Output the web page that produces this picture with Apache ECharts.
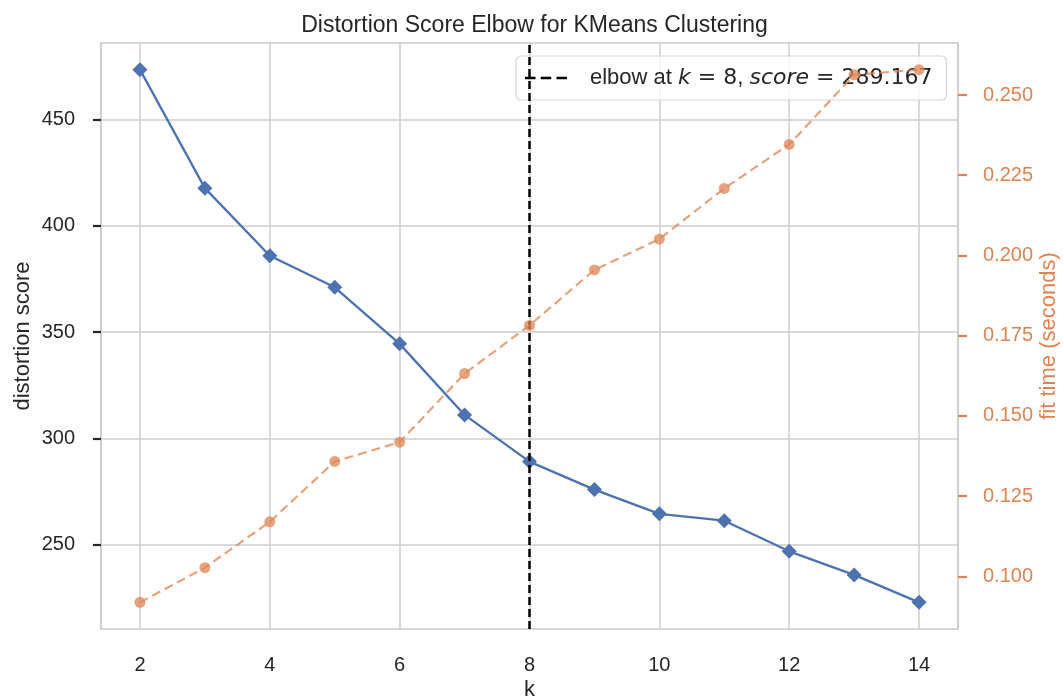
<!DOCTYPE html>
<html><head><meta charset="utf-8">
<script src="https://cdn.jsdelivr.net/npm/echarts@6/dist/echarts.min.js"></script>
<style>html,body{margin:0;padding:0;background:#fff}#c{width:1063px;height:700px}</style>
</head><body><div id="c"></div>
<script>
const kValues = [2, 3, 4, 5, 6, 7, 8, 9, 10, 11, 12, 13, 14];
const distortionScores = [473.4, 417.7, 385.9, 371.1, 344.5, 311.1, 289.167, 276.0, 264.6, 261.4, 247.0, 235.9, 223.0];
const fitTimes = [0.0919, 0.1027, 0.1170, 0.1358, 0.1418, 0.1632, 0.1782, 0.1955, 0.2051, 0.2209, 0.2346, 0.2563, 0.2579];
const elbowK = 8;
const elbowScore = 289.167;
const xTicks = [2, 4, 6, 8, 10, 12, 14];
const leftTicks = [250, 300, 350, 400, 450];
const rightTicks = [0.100, 0.125, 0.150, 0.175, 0.200, 0.225, 0.250];

function padded(arr, frac) {
  const lo = Math.min(...arr), hi = Math.max(...arr), r = hi - lo;
  return [lo - r * frac, hi + r * frac];
}
const xr = padded(kValues, 0.05);
const lr = padded(distortionScores, 0.05);
const rr = padded(fitTimes, 0.05);

const FONT = 'Liberation Sans';
const MATH = 'DejaVu Sans';
const TXT = '#262626';
const BLUE = '#4C72B0';
const ORANGE = '#DD8452';
const GRID = '#cccccc';

const chart = echarts.init(document.getElementById('c'), null, {renderer: 'canvas'});
chart.setOption({
  animation: false,
  backgroundColor: '#fff',
  textStyle: {fontFamily: FONT},
  title: {
    text: 'Distortion Score Elbow for KMeans Clustering',
    left: 529.5, textAlign: 'center', top: 9,
    textStyle: {fontFamily: FONT, fontSize: 23, fontWeight: 'normal', color: TXT}
  },
  grid: {left: 101, right: 105, top: 43, bottom: 71, outerBoundsMode: 'none', containLabel: false,
    show: true, borderColor: GRID, borderWidth: 1.6, backgroundColor: 'transparent'},
  legend: {
    data: [{name: 'elbow', icon: 'path://M0,0H10V2.6H0ZM15,0H25V2.6H15ZM30,0H40V2.6H30Z'}],
    left: 516, top: 56,
    padding: [11, 14, 11, 9],
    backgroundColor: 'rgba(255,255,255,0.8)',
    borderColor: '#d5d5d5', borderWidth: 1.2, borderRadius: 5,
    itemWidth: 42, itemHeight: 2.6, symbolKeepAspect: false,
    itemStyle: {color: '#000'},
    selectedMode: false,
    formatter: () => '{g|}{n|elbow at }{i|k}{m| = ' + elbowK + '}{n|, }{i|score}{m| = ' + elbowScore.toFixed(3) + '}',
    textStyle: {
      rich: {
        g: {width: 18},
        n: {fontFamily: FONT, fontSize: 22, color: TXT},
        m: {fontFamily: MATH, fontSize: 22, color: TXT},
        i: {fontFamily: MATH, fontStyle: 'italic', fontSize: 22, color: TXT}
      }
    }
  },
  xAxis: {
    type: 'value', min: xr[0], max: xr[1], minInterval: 2, maxInterval: 2,
    name: 'k', nameLocation: 'middle', nameGap: 50, nameMoveOverlap: false,
    nameTextStyle: {fontFamily: FONT, fontSize: 22, color: TXT},
    axisLine: {show: false}, axisTick: {show: false},
    axisLabel: {customValues: xTicks, margin: 26, fontSize: 20, color: TXT, fontFamily: FONT},
    splitLine: {show: true, lineStyle: {color: GRID, width: 1.5}}
  },
  yAxis: [{
    type: 'value', min: lr[0], max: lr[1], position: 'left', minInterval: 50, maxInterval: 50,
    name: 'distortion score', nameLocation: 'middle', nameGap: 67, nameMoveOverlap: false,
    nameTextStyle: {fontFamily: FONT, fontSize: 22, color: TXT},
    axisLine: {show: false},
    axisTick: {show: true, customValues: leftTicks, length: 8, lineStyle: {color: TXT, width: 2.2}},
    axisLabel: {customValues: leftTicks, margin: 26, fontSize: 20, color: TXT, fontFamily: FONT},
    splitLine: {show: true, lineStyle: {color: GRID, width: 1.5}}
  }, {
    type: 'value', min: rr[0], max: rr[1], position: 'right',
    name: 'fit time (seconds)', nameLocation: 'middle', nameGap: 80, nameMoveOverlap: false,
    nameTextStyle: {fontFamily: FONT, fontSize: 22, color: ORANGE},
    axisLine: {show: false},
    axisTick: {show: true, customValues: rightTicks, length: 9, lineStyle: {color: ORANGE, width: 2.2}},
    axisLabel: {customValues: rightTicks, margin: 25, fontSize: 20, color: ORANGE, fontFamily: FONT,
      formatter: v => v.toFixed(3)},
    splitLine: {show: false}
  }],
  series: [{
    name: 'distortion', type: 'line', yAxisIndex: 0, z: 2,
    data: kValues.map((k, i) => [k, distortionScores[i]]),
    symbol: 'diamond', symbolSize: 15,
    itemStyle: {color: BLUE},
    lineStyle: {color: BLUE, width: 2.3},
    emphasis: {disabled: true}
  }, {
    name: 'elbow', type: 'line', yAxisIndex: 0, z: 3,
    data: [],
    symbol: 'none', color: '#000',
    lineStyle: {color: '#000', width: 2.5, type: [8, 4]},
    markLine: {
      silent: true, symbol: 'none', label: {show: false},
      lineStyle: {color: '#000', width: 2.5, type: [8, 4]},
      emphasis: {disabled: true},
      data: [{xAxis: elbowK}]
    }
  }, {
    name: 'fit time', type: 'line', yAxisIndex: 1, z: 5,
    data: kValues.map((k, i) => [k, fitTimes[i]]),
    symbol: 'circle', symbolSize: 11,
    itemStyle: {color: ORANGE, opacity: 0.75},
    lineStyle: {color: ORANGE, width: 2.2, type: [9, 5], opacity: 0.75},
    emphasis: {disabled: true}
  }]
});
</script>
</body></html>
